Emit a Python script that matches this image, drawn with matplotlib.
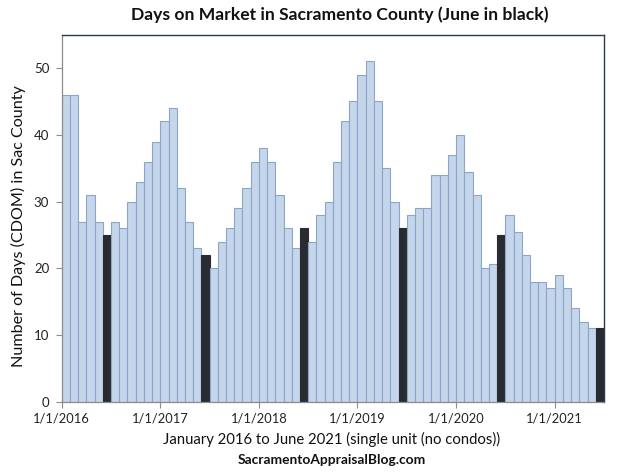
import matplotlib
matplotlib.use("Agg")
import matplotlib.pyplot as plt

# Monthly days on market, Jan 2016 - Jun 2021
months = [f"{y}-{m:02d}" for y in range(2016, 2022) for m in range(1, 13)][:66]
values_2016 = [46, 46, 27, 31, 27, 25, 27, 26, 30, 33, 36, 39]
values_2017 = [42, 44, 32, 27, 23, 22, 20, 24, 26, 29, 32, 36]
values_2018 = [38, 36, 31, 26, 23, 26, 24, 28, 30, 36, 42, 45]
values_2019 = [49, 51, 45, 35, 30, 26, 28, 29, 29, 34, 34, 37]
values_2020 = [40, 34.5, 31, 20, 20.7, 25, 28, 25.4, 22, 18, 18, 17]
values_2021 = [19, 17, 14, 12, 11, 11]
values = values_2016 + values_2017 + values_2018 + values_2019 + values_2020 + values_2021

tick_labels = ["1/1/2016", "1/1/2017", "1/1/2018", "1/1/2019", "1/1/2020", "1/1/2021"]
y_ticks = [0, 10, 20, 30, 40, 50]

FONT = "Lato"
plt.rcParams["font.family"] = [FONT, "DejaVu Sans"]

fig = plt.figure(figsize=(6.19, 4.76), dpi=100)
ax = fig.add_axes([0.0997, 0.156, 0.876, 0.771])

colors = ["#282b30" if m.endswith("-06") else "#c5d5ea" for m in months]
edges = ["#282b30" if m.endswith("-06") else "#8aa6cc" for m in months]
xs = list(range(len(values)))
ax.bar(xs, values, width=1.0, align="edge", color=colors, edgecolor=edges, linewidth=0.8)

ax.set_xlim(0, len(values))
ax.set_ylim(0, 55)
ax.set_yticks(y_ticks)
ax.set_yticklabels([str(v) for v in y_ticks], fontsize=9.5, color="#222222")
ax.set_xticks([12 * i for i in range(len(tick_labels))])
ax.set_xticklabels(tick_labels, fontsize=9.3, color="#222222")
ax.tick_params(axis="both", direction="out", length=4, width=0.8, color="#8c8c8c")
ax.tick_params(axis="x", pad=4)
ax.tick_params(axis="y", pad=5)

for s in ["left", "bottom"]:
    ax.spines[s].set_color("#8c8c8c")
    ax.spines[s].set_linewidth(0.9)
for s in ["top", "right"]:
    ax.spines[s].set_color("#2a3a4a")
    ax.spines[s].set_linewidth(1.0)

fig.text(340 / 619, 1 - 15 / 476, "Days on Market in Sacramento County (June in black)",
         ha="center", va="center", fontsize=12.6, fontweight="bold", color="#111111")
fig.text(18 / 619, 1 - 226 / 476, "Number of Days (CDOM) in Sac County",
         ha="center", va="center", rotation=90, fontsize=11.6, color="#111111")
fig.text(332 / 619, 1 - 439 / 476, "January 2016 to June 2021 (single unit (no condos))",
         ha="center", va="center", fontsize=10.7, color="#111111")
fig.text(332 / 619, 1 - 460 / 476, "SacramentoAppraisalBlog.com",
         ha="center", va="center", fontsize=9.9, fontweight="bold", color="#111111")

fig.savefig("out.png", dpi=100, facecolor="white")
